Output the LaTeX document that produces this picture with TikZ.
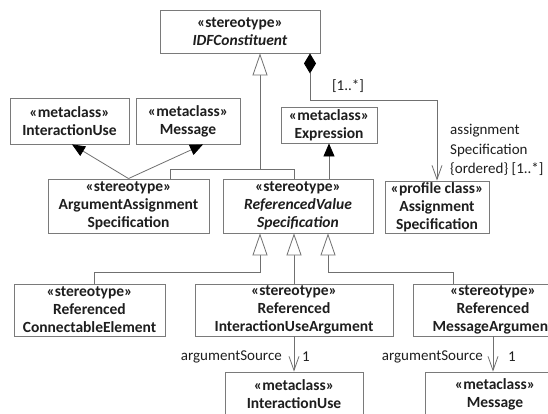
\documentclass[tikz,border=0pt]{standalone}
\usepackage{fontspec}
\setmainfont{Carlito}
\usetikzlibrary{arrows.meta,positioning}
\definecolor{umlline}{HTML}{707070}
\definecolor{umlframe}{HTML}{7A7A7A}
\definecolor{umltext}{HTML}{1E1E1E}
\tikzset{
  umlbox/.style={draw=umlframe, line width=0.9pt, fill=white, inner sep=0pt, align=center,
    text=umltext, font=\fontsize{15.5}{18}\selectfont\bfseries},
  umllbl/.style={text=umltext, inner sep=1pt, font=\fontsize{15}{19.5}\selectfont},
  umlconn/.style={draw=umlline, line width=0.8pt},
  gentip/.style={-{Triangle[open, fill=white, length=22pt, width=15pt]}},
  deptip/.style={-{Triangle[length=13pt, width=11pt, color=black]}},
  navtip/.style={-{Straight Barb[length=14pt, width=10pt]}},
  comptip/.style={{Diamond[length=20pt, width=12pt, color=black]}-{Straight Barb[length=14pt, width=10pt]}},
}

\begin{document}
\begin{tikzpicture}[x=1pt, y=-1pt]
  \fill[white] (0,0) rectangle (548,414);
  \useasboundingbox (0,0) rectangle (548,414);
  \clip (0,0) rectangle (548,414);

  % Top: abstract stereotype
  \node[umlbox, minimum width=160pt, minimum height=43pt] (idf) at (240,31.5) {«stereotype»\\\textit{IDFConstituent}};

  % Metaclasses of the second row
  \node[umlbox, minimum width=119pt, minimum height=46pt] (iu1) at (69.5,121) {«metaclass»\\InteractionUse};
  \node[umlbox, minimum width=104pt, minimum height=46pt] (msg1) at (188,121) {«metaclass»\\Message};
  \node[umlbox, minimum width=96pt, minimum height=36pt] (expr) at (329,125) {«metaclass»\\Expression};

  % Stereotypes of the third row
  \node[umlbox, minimum width=161pt, minimum height=54pt] (aas) at (128.5,206) {«stereotype»\\ArgumentAssignment\\Specification};
  \node[umlbox, minimum width=150pt, minimum height=54pt] (rvs) at (298,206) {«stereotype»\\\textit{ReferencedValue}\\\textit{Specification}};
  \node[umlbox, minimum width=104pt, minimum height=52pt] (as) at (437,207) {«profile class»\\Assignment\\Specification};

  % Concrete referenced values
  \node[umlbox, minimum width=151pt, minimum height=52pt] (rce) at (89.5,310) {«stereotype»\\Referenced\\ConnectableElement};
  \node[umlbox, minimum width=198pt, minimum height=52pt] (riau) at (294,310) {«stereotype»\\Referenced\\InteractionUseArgument};
  \node[umlbox, minimum width=160pt, minimum height=52pt] (rma) at (493,310) {«stereotype»\\Referenced\\MessageArgument};

  % Bottom metaclasses
  \node[umlbox, minimum width=138pt, minimum height=44pt] (iu2) at (294,394) {«metaclass»\\InteractionUse};
  \node[umlbox, minimum width=140pt, minimum height=44pt] (msg2) at (495,394) {«metaclass»\\Message};

  % Generalization to IDFConstituent
  \coordinate (gtop) at (260,169);
  \coordinate (g1) at (170,169);
  \coordinate (g2) at (294,169);
  \draw[umlconn] (aas.north -| g1) -- (g1) -- (g2) -- (rvs.north -| g2);
  \draw[umlconn, gentip] (gtop) -- (idf.south -| gtop);

  % Composition
  \coordinate (c1) at (310,100);
  \coordinate (c2) at (437,100);
  \draw[umlconn, comptip] (idf.south -| c1) -- (c1) -- (c2) -- (as.north -| c2);
  \node[umllbl] (cmult) at (348,86) {[1..*]};
  \node[umllbl, align=left, anchor=west] (crole) at (449,150) {assignment\\Specification\\\{ordered\} [1..*]};

  % Dependencies
  \coordinate (d1) at (72,0);
  \coordinate (d2) at (203,0);
  \draw[umlconn, deptip] (aas.north) -- (iu1.south -| d1);
  \draw[umlconn, deptip] (aas.north) -- (msg1.south -| d2);
  \draw[umlconn, deptip] (rvs.north -| expr.south) -- (expr.south);

  % Generalization to ReferencedValueSpecification
  \coordinate (bl) at (94,272);
  \coordinate (b1) at (260,272);
  \coordinate (b3) at (328,272);
  \coordinate (br) at (453,272);
  \draw[umlconn, gentip] (rce.north -| bl) -- (bl) -- (b1) -- (rvs.south -| b1);
  \draw[umlconn, gentip] (riau.north) -- (riau.north |- rvs.south);
  \draw[umlconn, gentip] (rma.north -| br) -- (br) -- (b3) -- (rvs.south -| b3);

  % Argument sources
  \draw[umlconn, navtip] (riau.south) -- (iu2.north);
  \draw[umlconn, navtip] (rma.south) -- (rma.south |- msg2.north);
  \node[umllbl, anchor=east] (src1) at (283,357) {argumentSource};
  \node[umllbl] (one1) at (306,357) {1};
  \node[umllbl, anchor=east] (src2) at (484,357) {argumentSource};
  \node[umllbl] (one2) at (512,357) {1};
\end{tikzpicture}
\end{document}
